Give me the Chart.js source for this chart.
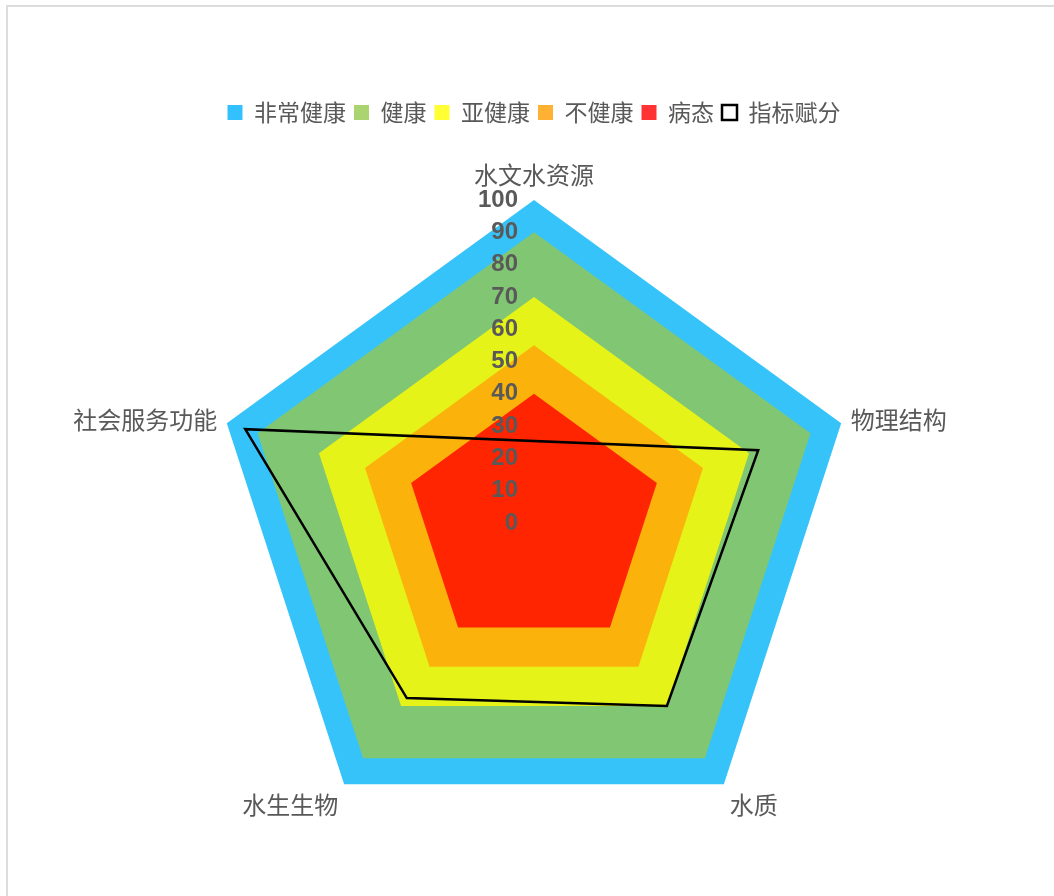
<!DOCTYPE html>
<html>
<head>
<meta charset="utf-8">
<script src="https://cdn.jsdelivr.net/npm/chart.js@4.4.1/dist/chart.umd.min.js"></script>
<style>
    html, body { margin: 0; padding: 0; background: #fff; overflow: hidden; }
    #wrap { position: relative; width: 1054px; height: 896px; overflow: hidden; }
    #frame {
        position: absolute; left: 6px; top: 5px; width: 1100px; height: 950px;
        border-left: 2px solid #dcdcdc; border-top: 2px solid #dcdcdc;
    }
    #radar { position: absolute; left: 0; top: 0; }
</style>
</head>
<body>
<div id="wrap">
    <div id="frame"></div>
    <canvas id="radar" width="1054" height="912"></canvas>
</div>
<script>
// axes of the evaluation
var categories = ["水文水资源", "物理结构", "水质", "水生生物", "社会服务功能"];

// health grade bands (same level on every axis)
var gradeNames = ["非常健康", "健康", "亚健康", "不健康", "病态"];
var gradeLevels = [100, 90, 70, 55, 40];
var gradeFill = ["#36c3f9", "#81c773", "#e5f318", "#fbb20a", "#ff2500"];
var gradeLegend = ["#33c0ff", "#a9d46f", "#ffff33", "#ffb133", "#ff3333"];

// scored indicators (水文水资源 has no score)
var scoreName = "指标赋分";
var scoreValues = [null, 73, 70, 67, 94];

var tickLabels = [0, 10, 20, 30, 40, 50, 60, 70, 80, 90, 100];

var textColor = "#595959";

// one filled pentagon per grade, largest at the bottom
var datasets = gradeNames.map(function (name, i) {
    return {
        label: name,
        data: categories.map(function () { return gradeLevels[i]; }),
        backgroundColor: gradeFill[i],
        borderWidth: 0,
        pointRadius: 0,
        fill: true,
        order: gradeNames.length - i
    };
});

datasets.push({
    label: scoreName,
    data: scoreValues,
    backgroundColor: "#ffffff",
    borderColor: "#000000",
    borderWidth: 2.5,
    pointRadius: 0,
    fill: false,
    spanGaps: true,
    order: 0
});

// tick values and axis names drawn on top of the bands
var axisText = {
    id: "axisText",
    afterDatasetsDraw: function (chart) {
        var scale = chart.scales.r;
        var ctx = chart.ctx;
        ctx.save();
        ctx.fillStyle = textColor;

        ctx.font = 'bold 24px "Liberation Sans", Arial, sans-serif';
        ctx.textAlign = "right";
        ctx.textBaseline = "middle";
        tickLabels.forEach(function (t) {
            var d = scale.getDistanceFromCenterForValue(t);
            ctx.fillText(String(t), scale.xCenter - 16, scale.yCenter - d);
        });

        ctx.font = '24px "Noto Sans CJK SC", sans-serif';
        categories.forEach(function (name, i) {
            var p = scale.getPointPosition(i, scale.drawingArea + 10);
            var dx = p.x - scale.xCenter;
            var dy = p.y - scale.yCenter;
            ctx.textAlign = Math.abs(dx) < 1 ? "center" : (dx > 0 ? "left" : "right");
            if (dy < -scale.drawingArea) {
                ctx.textBaseline = "bottom";
                p.y -= 3;
            } else if (dy > scale.drawingArea * 0.5) {
                ctx.textBaseline = "top";
            } else {
                ctx.textBaseline = "middle";
            }
            ctx.fillText(name, p.x, p.y);
        });
        ctx.restore();
    }
};

new Chart(document.getElementById("radar"), {
    type: "radar",
    data: {
        labels: categories,
        datasets: datasets
    },
    plugins: [axisText],
    options: {
        responsive: false,
        animation: false,
        devicePixelRatio: 1,
        layout: {
            padding: { left: 211, right: 197, top: 93, bottom: 0 }
        },
        scales: {
            r: {
                min: 0,
                max: 100,
                ticks: { display: false, stepSize: 10 },
                grid: { display: false },
                angleLines: { display: false },
                pointLabels: { display: false }
            }
        },
        plugins: {
            tooltip: { enabled: false },
            legend: {
                position: "top",
                labels: {
                    boxWidth: 15,
                    boxHeight: 15,
                    padding: 8,
                    color: textColor,
                    font: { family: '"Noto Sans CJK SC", sans-serif', size: 23 },
                    generateLabels: function (chart) {
                        var items = Chart.defaults.plugins.legend.labels.generateLabels(chart);
                        items.sort(function (a, b) { return a.datasetIndex - b.datasetIndex; });
                        items.forEach(function (item) {
                            if (item.datasetIndex < gradeLegend.length) {
                                item.fillStyle = gradeLegend[item.datasetIndex];
                            }
                        });
                        return items;
                    }
                }
            }
        }
    }
});
</script>
</body>
</html>
